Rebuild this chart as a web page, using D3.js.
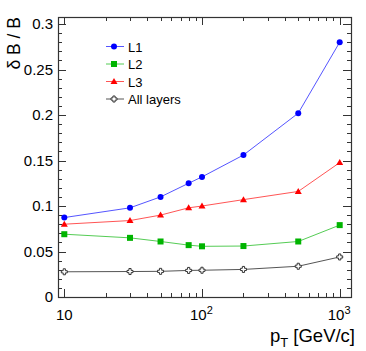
<!DOCTYPE html>
<html>
<head>
<meta charset="utf-8">
<script src="https://cdn.jsdelivr.net/npm/d3@7"></script>
<style>
  body { margin: 0; background: #fff; }
  text { font-family: "Liberation Sans", Arial, sans-serif; fill: #000; }
</style>
</head>
<body>
<svg id="chart" width="366" height="351"></svg>
<script>
// pT points (GeV/c)
var pt = [10, 30, 50, 80, 100, 200, 500, 1000];
var l1 = [0.0873, 0.098, 0.110, 0.125, 0.132, 0.156, 0.202, 0.280];
var l2 = [0.069, 0.065, 0.061, 0.057, 0.0557, 0.056, 0.061, 0.079];
var l3 = [0.080, 0.084, 0.090, 0.098, 0.100, 0.107, 0.116, 0.1477];
var all = [0.0277, 0.0280, 0.0282, 0.0292, 0.0294, 0.0303, 0.0338, 0.044];
var yTicks = [0, 0.05, 0.1, 0.15, 0.2, 0.25, 0.3];
var xTicks = [10, 100, 1000];
var names = ["L1", "L2", "L3", "All layers"];

var series = [
  {name: names[0], vals: l1, color: "#0000ff", line: "#5555ff", marker: "circle"},
  {name: names[1], vals: l2, color: "#00b400", line: "#55cc55", marker: "square"},
  {name: names[2], vals: l3, color: "#ff0000", line: "#ff5555", marker: "triangle"},
  {name: names[3], vals: all, color: "#333333", line: "#555555", marker: "cross"}
];

var svg = d3.select("#chart");
var mLeft = 58, mRight = 351, mTop = 17, mBottom = 297;

var x = d3.scaleLog().domain([9.0, 1208]).range([mLeft, mRight]);
var y = d3.scaleLinear().domain([0, 0.3077]).range([mBottom, mTop]);

var axisColor = "#333";

// y ticks (left and right, inside)
var yMinor = d3.range(0, 0.301, 0.01);
yMinor.forEach(function(v) {
  var major = Math.abs(v / 0.05 - Math.round(v / 0.05)) < 1e-6;
  var len = major ? 8 : 4;
  var yy = Math.round(y(v)) + 0.5;
  svg.append("line").attr("x1", mLeft).attr("x2", mLeft + len)
    .attr("y1", yy).attr("y2", yy).attr("stroke", axisColor);
  svg.append("line").attr("x1", mRight).attr("x2", mRight - len)
    .attr("y1", yy).attr("y2", yy).attr("stroke", axisColor);
});

// x ticks (log, bottom and top, inside)
var xMinor = [];
[10, 100].forEach(function(d) {
  for (var k = 1; k < 10; k++) xMinor.push(d * k);
});
xMinor.push(1000);
xMinor.forEach(function(v) {
  var major = xTicks.indexOf(v) >= 0;
  var len = major ? 8 : 4;
  var xx = Math.round(x(v)) + 0.5;
  svg.append("line").attr("x1", xx).attr("x2", xx)
    .attr("y1", mBottom).attr("y2", mBottom - len).attr("stroke", axisColor);
  svg.append("line").attr("x1", xx).attr("x2", xx)
    .attr("y1", mTop).attr("y2", mTop + len).attr("stroke", axisColor);
});

// frame
svg.append("rect")
  .attr("x", mLeft + 0.5).attr("y", mTop + 0.5)
  .attr("width", mRight - mLeft).attr("height", mBottom - mTop)
  .attr("fill", "none").attr("stroke", axisColor).attr("stroke-width", 1.2);

// y tick labels
svg.selectAll(".ylab").data(yTicks).enter().append("text")
  .attr("class", "ylab")
  .attr("x", 53).attr("y", function(d) { return y(d) + 5; })
  .attr("text-anchor", "end").attr("font-size", 15)
  .text(function(d) { return d === 0 ? "0" : String(d); });

// x tick labels
xTicks.forEach(function(v) {
  var t = svg.append("text").attr("y", 320).attr("font-size", 15);
  if (v === 10) {
    t.attr("x", x(v)).attr("text-anchor", "middle").text("10");
  } else {
    t.attr("x", x(v) - 12);
    t.append("tspan").text("10");
    t.append("tspan").attr("dy", -6).attr("font-size", 11)
      .text(String(Math.round(Math.log10(v))));
  }
});

// axis titles
var xt = svg.append("text").attr("x", 355).attr("y", 342)
  .attr("text-anchor", "end").attr("font-size", 18.5);
xt.append("tspan").text("p");
xt.append("tspan").attr("dy", 5).attr("font-size", 13).text("T");
xt.append("tspan").attr("dy", -5).text(" [GeV/c]");

svg.append("text")
  .attr("transform", "translate(20,17) rotate(-90)")
  .attr("text-anchor", "end").attr("font-size", 17.5)
  .text("δ B / B");

// markers
function drawMarker(g, type, cx, cy, color) {
  if (type === "circle") {
    g.append("circle").attr("cx", cx).attr("cy", cy).attr("r", 3)
      .attr("fill", color);
  } else if (type === "square") {
    g.append("rect").attr("x", cx - 3).attr("y", cy - 3)
      .attr("width", 6).attr("height", 6).attr("fill", color);
  } else if (type === "triangle") {
    g.append("path")
      .attr("d", "M" + cx + "," + (cy - 3.5) + "L" + (cx + 3.5) + "," + (cy + 2.5) +
        "L" + (cx - 3.5) + "," + (cy + 2.5) + "Z")
      .attr("fill", color);
  } else {
    var a = 1.1, b = 3;
    var pts = [[-a, -b], [a, -b], [a, -a], [b, -a], [b, a], [a, a], [a, b], [-a, b],
      [-a, a], [-b, a], [-b, -a], [-a, -a]];
    g.append("path")
      .attr("d", "M" + pts.map(function(p) { return (cx + p[0]) + "," + (cy + p[1]); }).join("L") + "Z")
      .attr("fill", "#fff").attr("stroke", color).attr("stroke-width", 1);
  }
}

var line = d3.line()
  .x(function(d) { return x(d[0]); })
  .y(function(d) { return y(d[1]); });

// draw in order so L1 is on top
series.slice().reverse().forEach(function(s) {
  var g = svg.append("g");
  var pts = pt.map(function(p, i) { return [p, s.vals[i]]; });
  g.append("path").datum(pts).attr("d", line)
    .attr("fill", "none").attr("stroke", s.line).attr("stroke-width", 1);
  pts.forEach(function(p) {
    drawMarker(g, s.marker, x(p[0]), y(p[1]), s.color);
  });
});

// legend
series.forEach(function(s, i) {
  var ly = 46.5 + i * 17.5;
  var g = svg.append("g");
  g.append("line").attr("x1", 106).attr("x2", 124)
    .attr("y1", ly).attr("y2", ly).attr("stroke", s.line);
  drawMarker(g, s.marker, 114, ly, s.color);
  g.append("text").attr("x", 128).attr("y", ly + 5)
    .attr("font-size", 13).text(s.name);
});
</script>
</body>
</html>
